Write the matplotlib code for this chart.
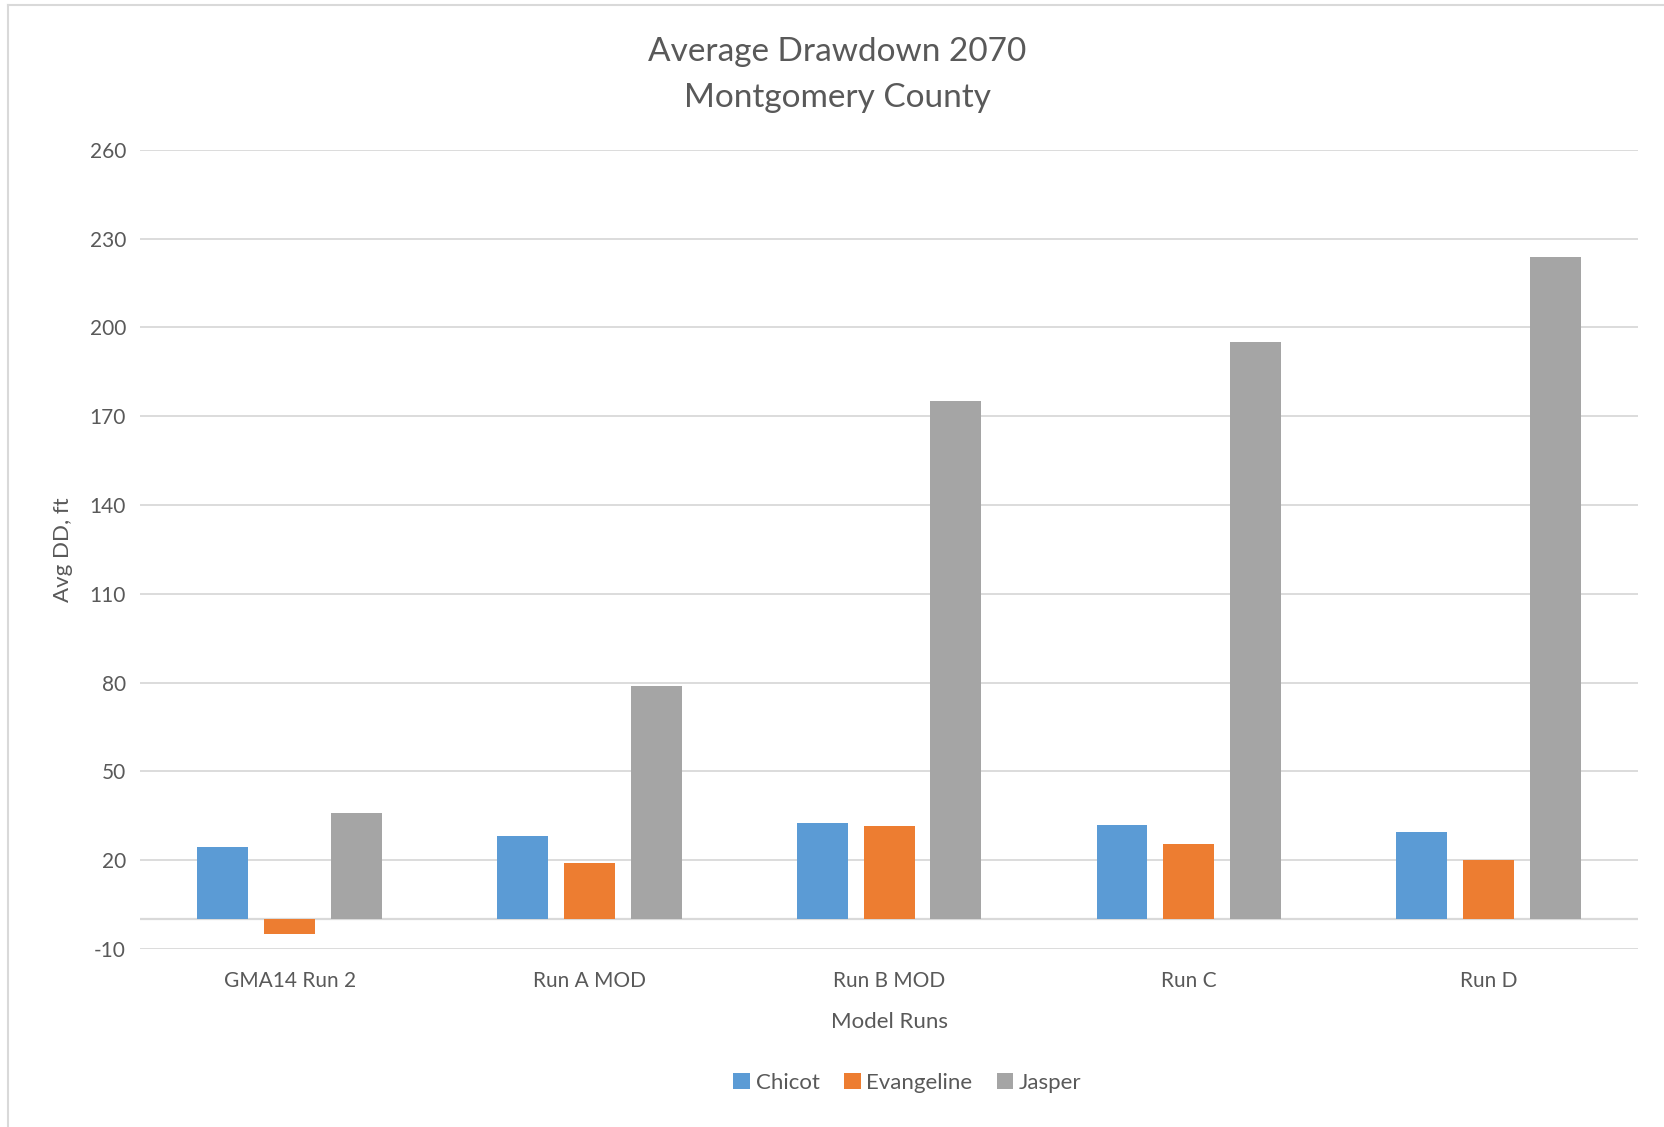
import numpy as np
import matplotlib.pyplot as plt
from matplotlib.lines import Line2D

runs = ['GMA14 Run 2', 'Run A MOD', 'Run B MOD', 'Run C', 'Run D']
chicot = [24.4, 28.3, 32.6, 31.9, 29.4]
evangeline = [-5.0, 19.0, 31.5, 25.5, 20.1]
jasper = [35.8, 79.0, 175.0, 195.2, 223.7]
yticks = list(range(-10, 261, 30))

series = [('Chicot', chicot, '#5b9bd5'),
          ('Evangeline', evangeline, '#ed7d31'),
          ('Jasper', jasper, '#a5a5a5')]

plt.rcParams['font.family'] = ['Lato', 'DejaVu Sans']
plt.rcParams['axes.unicode_minus'] = False
txt = '#595959'

fig = plt.figure(figsize=(16.65, 11.27), dpi=100)
ax = fig.add_axes([0.084, 0.158, 0.9, 0.709])

x = np.arange(len(runs))
w = 0.17
off = 0.223
for k, (name, vals, col) in enumerate(series):
    ax.bar(x + (k - 1) * off, vals, width=w, color=col, label=name, zorder=3)

ax.set_xlim(-0.5, len(runs) - 0.5)
ax.set_ylim(-10, 260)
ax.set_yticks(yticks)
ax.set_xticks(x)
ax.set_xticklabels(runs)
ax.yaxis.grid(True, color='#d9d9d9', lw=1.3, zorder=0)
ax.axhline(0, color='#d9d9d9', lw=1.6, zorder=2)
for s in ax.spines.values():
    s.set_visible(False)
ax.tick_params(length=0, labelsize=15, colors=txt, pad=10)
ax.tick_params(axis='x', pad=16)

ax.set_xlabel('Model Runs', fontsize=16, color=txt, labelpad=15)
ax.set_ylabel('Avg DD, ft', fontsize=16, color=txt, labelpad=12)

fig.text(0.503, 0.954, 'Average Drawdown 2070', ha='center', va='center', fontsize=24, color=txt)
fig.text(0.503, 0.913, 'Montgomery County', ha='center', va='center', fontsize=24, color=txt)

leg = fig.legend(loc='center', bbox_to_anchor=(0.545, 0.039), ncol=3, frameon=False,
                 fontsize=16, handlelength=0.75, handleheight=0.75, handletextpad=0.25,
                 columnspacing=1.1)
for t in leg.get_texts():
    t.set_color(txt)

# chart border (top and left visible)
fig.add_artist(Line2D([0.005, 1.0], [0.9955, 0.9955], transform=fig.transFigure, color='#d9d9d9', lw=1.5))
fig.add_artist(Line2D([0.005, 0.005], [0.0, 0.9955], transform=fig.transFigure, color='#d9d9d9', lw=1.5))

plt.savefig('out.png', dpi=100)
